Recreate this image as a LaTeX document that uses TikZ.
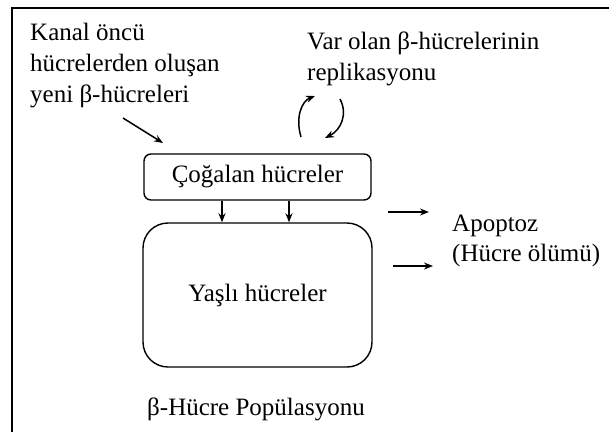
\documentclass[tikz,border=0pt]{standalone}
\usepackage{fontspec}
\setmainfont{Liberation Serif}
\usepackage{tikz}
\usetikzlibrary{arrows.meta,positioning}

\begin{document}
\begin{tikzpicture}[x=1pt,y=-1pt,>={Stealth[length=9pt,width=7pt]},
    font=\fontsize{25}{31}\selectfont,
    cellbox/.style={draw,line width=1.4pt,inner sep=0pt,align=center},
    label/.style={inner sep=0pt,anchor=base west,align=left},
    flow/.style={->,line width=1.5pt}]
    \useasboundingbox (0,0) rectangle (609,432);
    \draw[line width=2pt] (12,432) -- (12,8) -- (609,8);

    % texts: base is the last line
    \node[label] (kanal) at (30,102)
      {Kanal öncü\\hücrelerden oluşan\\yeni β-hücreleri};
    \node[label] (var) at (307,80) {Var olan β-hücrelerinin\\replikasyonu};

    \node[cellbox,rounded corners=7pt,minimum width=227pt,minimum height=46pt]
      (cog) at (257.5,177) {Çoğalan hücreler};
    \node[cellbox,rounded corners=25pt,minimum width=229pt,minimum height=144pt]
      (yasli) at (257.5,295) {Yaşlı hücreler};
    \draw[flow] ([xshift=-35.5pt]cog.south) -- ([xshift=-35.5pt]yasli.north);
    \draw[flow] ([xshift=31.5pt]cog.south) -- ([xshift=31.5pt]yasli.north);

    \coordinate (k1) at (123,118);
    \coordinate (k2) at (163,143);
    \draw[flow] (k1) -- (k2);

    \coordinate (r1) at (301,137);
    \coordinate (r2) at (315,96);
    \coordinate (r3) at (340,99);
    \coordinate (r4) at (325,138);
    \draw[flow] (r1) .. controls (295,117) and (302,101) .. (r2);
    \draw[flow] (r3) .. controls (348,114) and (341,130) .. (r4);

    \node[label,font=\fontsize{25}{30}\selectfont] (apop) at (452,261)
      {Apoptoz\\(Hücre ölümü)};
    \coordinate (a1) at (388,212);
    \coordinate (a2) at (429,212);
    \coordinate (a3) at (393,266);
    \coordinate (a4) at (433,266);
    \draw[flow] (a1) -- (a2);
    \draw[flow] (a3) -- (a4);

    \node[label] (pop) at (147,415) {β-Hücre Popülasyonu};
  \end{tikzpicture}
\end{document}
